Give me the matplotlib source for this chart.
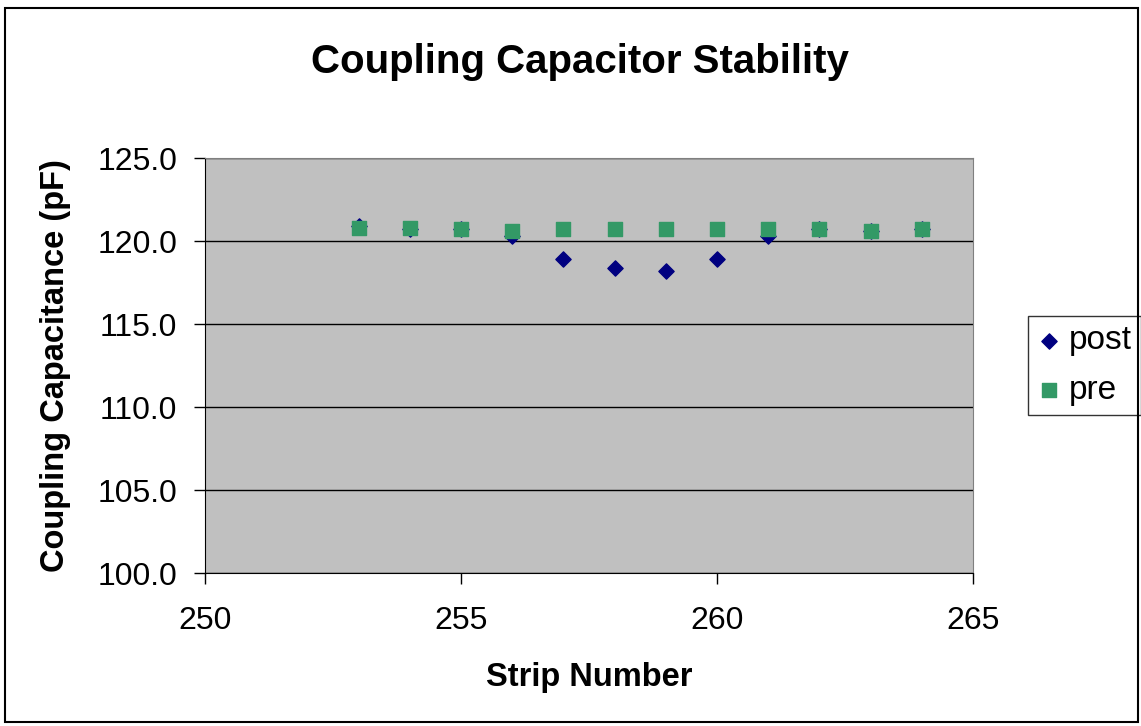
import matplotlib
matplotlib.use("Agg")
import matplotlib.pyplot as plt
from matplotlib.patches import Rectangle

plt.rcParams["font.family"] = ["Liberation Sans", "DejaVu Sans"]

# ── Data ──────────────────────────────────────────────────────────────────────
strips = [253, 254, 255, 256, 257, 258, 259, 260, 261, 262, 263, 264]
post = [120.9, 120.7, 120.7, 120.3, 118.9, 118.4, 118.2, 118.9, 120.3, 120.7, 120.6, 120.7]
pre = [120.8, 120.8, 120.7, 120.6, 120.7, 120.7, 120.7, 120.7, 120.7, 120.7, 120.6, 120.7]

x_ticks = [250, 255, 260, 265]
y_ticks = [100.0, 105.0, 110.0, 115.0, 120.0, 125.0]

POST_COLOR = "#000080"
PRE_COLOR = "#339966"
PLOT_BG = "#C0C0C0"

fig = plt.figure(figsize=(11.41, 7.26), dpi=100, facecolor="white")
ax = fig.add_axes([0.1797, 0.2107, 0.6731, 0.5716])
ax.set_facecolor(PLOT_BG)

# outer chart border
fig.patches.append(Rectangle((0.004, 0.006), 0.993, 0.983, transform=fig.transFigure,
                             fill=False, edgecolor="black", linewidth=1.5))

ax.scatter(strips, post, marker="D", s=60, color=POST_COLOR, zorder=3, label="post")
ax.scatter(strips, pre, marker="s", s=105, color=PRE_COLOR, zorder=4, label="pre")

ax.set_xlim(250, 265)
ax.set_ylim(100, 125)
ax.set_xticks(x_ticks)
ax.set_yticks(y_ticks)
ax.set_yticklabels([f"{v:.1f}" for v in y_ticks])
ax.grid(axis="y", color="black", linewidth=1.0, zorder=1)
ax.set_axisbelow(True)

for side in ("top", "right"):
    ax.spines[side].set_color("#808080")
for side in ("left", "bottom"):
    ax.spines[side].set_color("black")
ax.tick_params(axis="both", direction="out", length=8, width=1, labelsize=23)
ax.tick_params(axis="x", pad=16)
ax.tick_params(axis="y", pad=12)

fig.text(0.508, 1 - 62 / 726, "Coupling Capacitor Stability", fontsize=29,
         fontweight="bold", ha="center", va="center")
ax.set_xlabel("Strip Number", fontsize=23.5, fontweight="bold")
ax.set_ylabel("Coupling Capacitance (pF)", fontsize=23.5, fontweight="bold")
ax.xaxis.set_label_coords(0.5, -0.2506)
ax.yaxis.set_label_coords(-0.195, 0.5)
ax.xaxis.label.set_va("center")
ax.yaxis.label.set_va("center")

leg = ax.legend(loc="center left", bbox_to_anchor=(1.0716, 0.5), borderaxespad=0,
                frameon=True, fontsize=24, handletextpad=0.25, borderpad=0.28,
                labelspacing=0.55, markerscale=1.0, handlelength=0.7, fancybox=False)
leg.get_frame().set_edgecolor("black")
leg.get_frame().set_linewidth(1.0)

fig.savefig("out.png", dpi=100, facecolor="white")
